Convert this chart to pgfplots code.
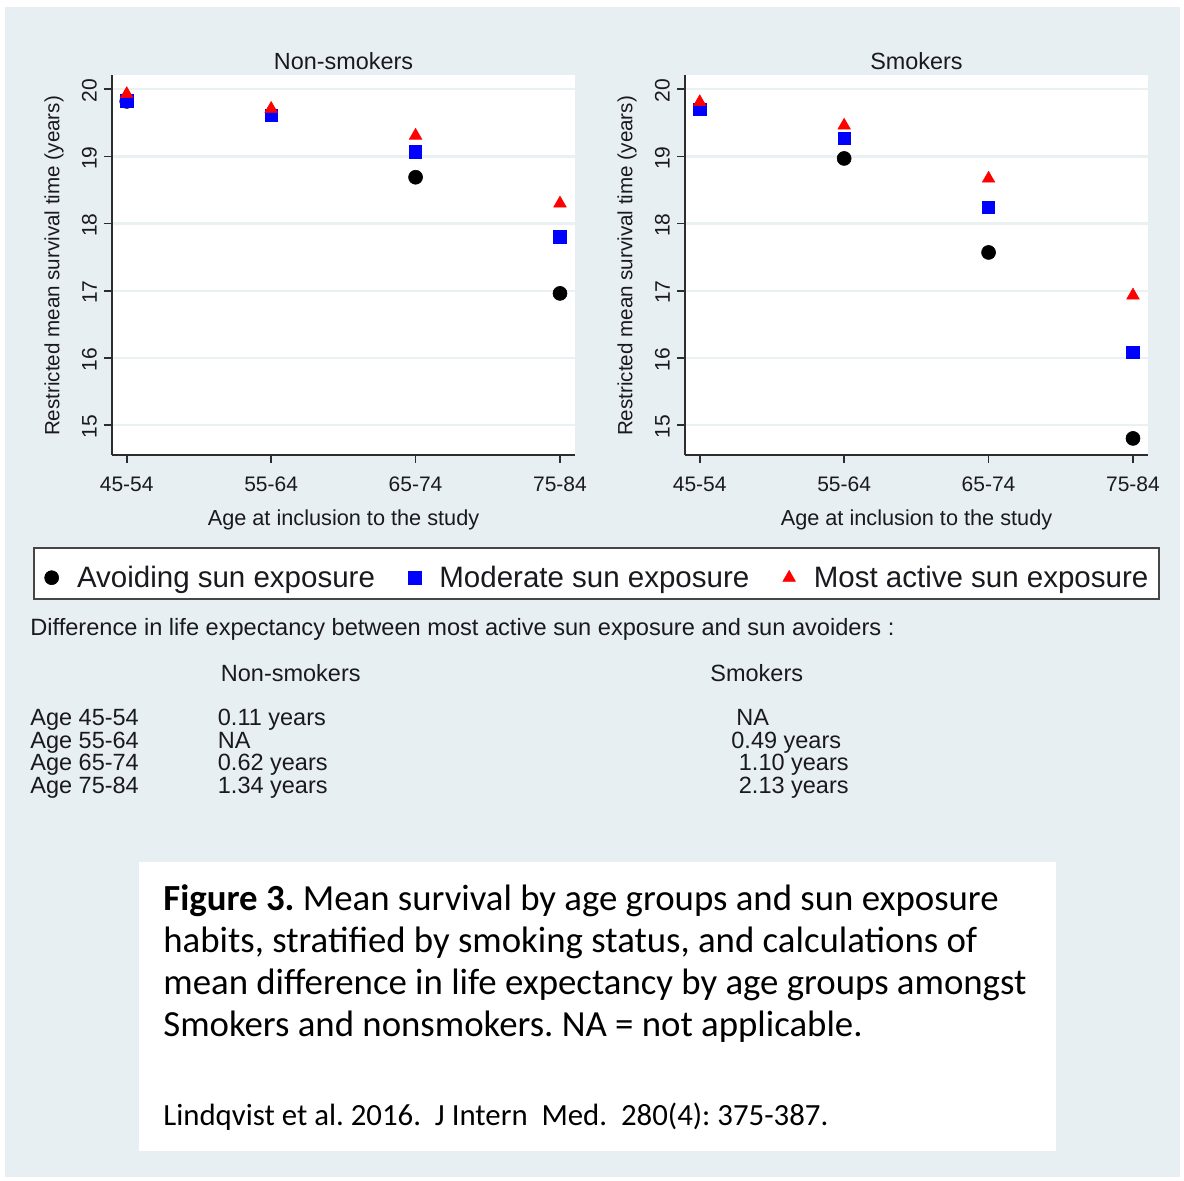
\documentclass[border=0pt]{standalone}
\usepackage{pgfplots}
\pgfplotsset{compat=1.18}
\usepackage{fontspec}
\setmainfont{Liberation Sans}
\newfontfamily\calibri{Carlito}
\frenchspacing
\definecolor{bgc}{RGB}{232,239,242}
\definecolor{gridc}{RGB}{234,241,243}
\definecolor{axisc}{RGB}{45,45,45}
\definecolor{txtc}{RGB}{25,25,30}
\definecolor{legc}{RGB}{70,70,70}
\definecolor{sblue}{RGB}{0,0,255}
\definecolor{sred}{RGB}{255,0,0}

\pgfplotsset{
  statapanel/.style={
    scale only axis, width=231.5pt, height=190pt,
    xmin=-0.102, xmax=3.104, ymin=14.553, ymax=20.213,
    axis x line*=bottom, axis y line*=left,
    axis line style={draw=axisc, line width=0.9pt},
    xtick={0,1,2,3}, xticklabels={45-54,55-64,65-74,75-84},
    ytick={15,16,17,18,19,20},
    tick align=outside, major tick length=4pt,
    tick style={draw=axisc, line width=0.8pt},
    ymajorgrids, major grid style={draw=gridc, line width=1.2pt},
    axis background/.style={fill=white},
    /pgf/number format/assume math mode=true,
    ticklabel style={font=\fontsize{10.5}{12}\selectfont, text=txtc},
    xticklabel style={yshift=-3.5pt},
    yticklabel style={rotate=90, anchor=south, xshift=-0.8pt},
    clip=false,
  },
  avoid/.style={only marks, mark=*, mark size=3.5pt,
    mark options={draw=black, fill=black, line width=0.3pt},
    legend image code/.code={\draw[##1] plot coordinates {(0pt,-2pt)};}},
  moder/.style={only marks, mark=square*, mark size=3.1pt,
    mark options={draw=sblue, fill=sblue, line width=0.3pt},
    legend image code/.code={\draw[##1] plot coordinates {(0pt,-2pt)};}},
  activ/.style={only marks, mark=triangle*, mark size=3.6pt,
    mark options={draw=sred, fill=sred, line width=0.3pt},
    legend image code/.code={\draw[##1] plot coordinates {(0pt,-2pt)};}},
}

\begin{document}
\begin{tikzpicture}
\begin{scope}[x=0.5pt,y=-0.5pt]
  \fill[white] (0,0) rectangle (1184,1181);
  \fill[bgc] (5,7) rectangle (1180,1177);
  \fill[white] (139,862) rectangle (1056,1151);
\end{scope}

% Non-smokers
\begin{axis}[statapanel, at={(56pt,-227.5pt)}, anchor=south west,
  legend columns=3,
  legend cell align=left,
  legend style={at={(1.0464,-0.3124)}, anchor=center, draw=legc, line width=1pt, fill=white,
    inner xsep=5.5pt, inner ysep=2.8pt,
    font=\fontsize{14.75}{17}\selectfont, text=txtc,
    nodes={inner sep=0pt, text height=16.9pt, text depth=3.1pt},
    /tikz/every odd column/.append style={column sep=9.2pt},
    /tikz/every even column/.append style={column sep=16.8pt}},
]
\addplot[avoid] coordinates {(0,19.82) (2,18.69) (3,16.96)};
\addlegendentry{Avoiding sun exposure}
\addplot[moder] coordinates {(0,19.83) (1,19.61) (2,19.07) (3,17.80)};
\addlegendentry{Moderate sun exposure}
\addplot[activ] coordinates {(0,19.93) (1,19.71) (2,19.31) (3,18.30)};
\addlegendentry{Most active sun exposure}
\end{axis}

% Smokers
\begin{axis}[statapanel, at={(342.5pt,-227.5pt)}, anchor=south west]
\addplot[avoid] coordinates {(1,18.97) (2,17.57) (3,14.80)};
\addplot[moder] coordinates {(0,19.70) (1,19.27) (2,18.24) (3,16.08)};
\addplot[activ] coordinates {(0,19.81) (1,19.46) (2,18.67) (3,16.93)};
\end{axis}

\begin{scope}[x=0.5pt,y=-0.5pt, every node/.style={inner sep=0pt, text=txtc}]
  % titles
  \node[anchor=base, font=\fontsize{11.7}{14}\selectfont] at (343.5,69.4) {Non-smokers};
  \node[anchor=base, font=\fontsize{11.7}{14}\selectfont] at (916.5,69.4) {Smokers};
  % x labels
  \node[anchor=base, font=\fontsize{10.85}{13}\selectfont] at (343.5,525.8) {Age at inclusion to the study};
  \node[anchor=base, font=\fontsize{10.85}{13}\selectfont] at (916.5,525.8) {Age at inclusion to the study};
  % y labels
  \node[anchor=base, rotate=90, font=\fontsize{10.3}{12}\selectfont] at (59.3,266) {Restricted mean survival time (years)};
  \node[anchor=base, rotate=90, font=\fontsize{10.3}{12}\selectfont] at (632.3,266) {Restricted mean survival time (years)};
  % difference text
  \node[anchor=base west, font=\fontsize{11.8}{14}\selectfont] at (30,635.5) {Difference in life expectancy between most active sun exposure and sun avoiders :};
  \node[anchor=base west, font=\fontsize{11.75}{14}\selectfont] at (220.5,681.5) {Non-smokers};
  \node[anchor=base west, font=\fontsize{11.75}{14}\selectfont] at (710,681.5) {Smokers};
  \begin{scope}[every node/.append style={anchor=base west, font=\fontsize{11.75}{14}\selectfont}]
    \node at (30,725.5) {Age 45-54};
    \node at (30,748) {Age 55-64};
    \node at (30,770.5) {Age 65-74};
    \node at (30,793) {Age 75-84};
    \node at (217.5,725.5) {0.11 years};
    \node at (217.5,748) {NA};
    \node at (217.5,770.5) {0.62 years};
    \node at (217.5,793) {1.34 years};
    \node at (736,725.5) {NA};
    \node at (731,748) {0.49 years};
    \node at (738.5,770.5) {1.10 years};
    \node at (738.5,793) {2.13 years};
  \end{scope}
  % caption
  \begin{scope}[every node/.append style={anchor=base west, font=\calibri\fontsize{18.4}{21}\selectfont, text=black}]
    \node at (163,910) {\textbf{Figure 3.} Mean survival by age groups and sun exposure};
    \node at (163,952) {habits, stratified by smoking status, and calculations of};
    \node at (163,994) {mean difference in life expectancy by age groups amongst};
    \node at (163,1036) {Smokers and nonsmokers. NA = not applicable.};
  \end{scope}
  \node[anchor=base west, font=\calibri\fontsize{15.4}{18}\selectfont, text=black] at (163,1125) {Lindqvist et al. 2016.\ \ J Intern\ \ Med.\ \ 280(4): 375-387.};
  \pgfresetboundingbox
  \path[use as bounding box] (0,0) rectangle (1184,1181);
\end{scope}
\end{tikzpicture}
\end{document}
